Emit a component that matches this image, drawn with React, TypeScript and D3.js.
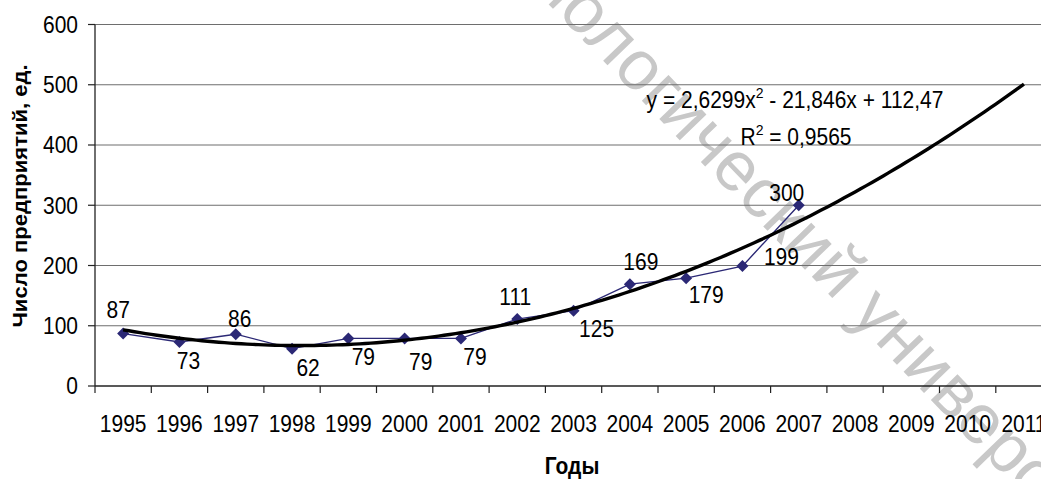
import React from "react";
import * as d3 from "d3";

const years = ["1995","1996","1997","1998","1999","2000","2001","2002","2003","2004","2005","2006","2007","2008","2009","2010","2011"];
const dataYears = ["1995","1996","1997","1998","1999","2000","2001","2002","2003","2004","2005","2006","2007"];
const values = [87, 73, 86, 62, 79, 79, 79, 111, 125, 169, 179, 199, 300];
const yTicks = [0, 100, 200, 300, 400, 500, 600];
// polynomial trend coefficients: a*x^2 + b*x + c, x = 1..17
const trendCoef = [2.6299, -21.846, 112.47];
// label offsets (dx, dy) from each point
const labelOffsets: [number, number][] = [
  [-5, -24], [9, 19], [4, -16], [16, 19], [15, 18], [16, 23], [14, 18],
  [-2, -22], [23, 18], [11, -22], [20, 17], [39, -9], [-12, -13],
];

const W = 1041, H = 479;
const left = 95, top = 24.5, bottom = 386;
const step = 56.3;
const FONT = "'Liberation Sans', Arial, sans-serif";
const SY = 1.1;

function T(props: { x: number; y: number; anchor?: string; size?: number; bold?: boolean; children: React.ReactNode; dy?: string }) {
  const { x, y, anchor = "middle", size = 21, bold = false, children, dy } = props;
  return (
    <text transform={`translate(${x},${y}) scale(1,${SY})`} textAnchor={anchor} fontSize={size} fontWeight={bold ? "bold" : "normal"} dy={dy}>
      {children}
    </text>
  );
}

export default function App() {
  const x = d3.scaleBand<string>().domain(years).range([left, left + step * years.length]).padding(0);
  const y = d3.scaleLinear().domain([0, 600]).range([bottom, top]);
  const cx = (yr: string) => (x(yr) as number) + x.bandwidth() / 2;

  const line = d3.line<[number, number]>().x(d => d[0]).y(d => d[1]);
  const dataPts: [number, number][] = dataYears.map((yr, i) => [cx(yr), y(values[i])]);

  const trendPts: [number, number][] = [];
  for (let t = 1; t <= years.length + 1e-9; t += 0.1) {
    const v = trendCoef[0] * t * t + trendCoef[1] * t + trendCoef[2];
    trendPts.push([(x(years[0]) as number) + x.bandwidth() * (t - 0.5), y(v)]);
  }

  const diamond = (px: number, py: number, r = 6) =>
    `M${px},${py - r}L${px + r},${py}L${px},${py + r}L${px - r},${py}Z`;

  const xRight = left + step * years.length;

  return (
    <svg width={W} height={H} style={{ position: "absolute", left: 0, top: 0, background: "#fff" }} fontFamily={FONT}>
      <rect x={0} y={0} width={W} height={H} fill="#fff" />
      {/* watermark */}
      <text transform={`translate(560,16) rotate(46)`} fontSize={70} fill="#c8c8c8" textAnchor="start" dx={-155}>
        Технологический университет
      </text>

      {/* gridlines */}
      {yTicks.filter(t => t > 0).map(t => (
        <line key={t} x1={left} x2={xRight} y1={y(t)} y2={y(t)} stroke="#6e6e6e" strokeWidth={1.2} />
      ))}
      {/* axes */}
      <line x1={left} x2={left} y1={top} y2={bottom} stroke="#222" strokeWidth={1.3} />
      <line x1={left} x2={xRight} y1={bottom} y2={bottom} stroke="#222" strokeWidth={1.3} />
      {yTicks.map(t => (
        <g key={t}>
          <line x1={left - 7} x2={left} y1={y(t)} y2={y(t)} stroke="#222" strokeWidth={1.2} />
          <T x={78} y={y(t)} anchor="end" dy="0.36em">{t}</T>
        </g>
      ))}
      {years.map(yr => (
        <line key={yr} x1={x(yr) as number} x2={x(yr) as number} y1={bottom} y2={bottom + 7} stroke="#222" strokeWidth={1.2} />
      ))}
      {years.map(yr => (
        <T key={yr} x={cx(yr)} y={432}>{yr}</T>
      ))}

      {/* data series */}
      <path d={line(dataPts) || ""} fill="none" stroke="#2b2875" strokeWidth={1.4} />
      {dataPts.map((p, i) => (
        <path key={i} d={diamond(p[0], p[1])} fill="#2b2875" />
      ))}
      {/* trend */}
      <path d={line(trendPts) || ""} fill="none" stroke="#000" strokeWidth={3.4} strokeLinejoin="round" />

      {/* labels */}
      {dataPts.map((p, i) => (
        <T key={i} x={p[0] + labelOffsets[i][0]} y={p[1] + labelOffsets[i][1]} dy="0.36em">
          {values[i]}
        </T>
      ))}

      {/* equation */}
      <T x={795} y={108}>
        y = 2,6299x<tspan fontSize={14} dy={-9}>2</tspan><tspan dy={9}> - 21,846x + 112,47</tspan>
      </T>
      <T x={796} y={145}>
        R<tspan fontSize={14} dy={-9}>2</tspan><tspan dy={9}> = 0,9565</tspan>
      </T>

      {/* axis titles */}
      <text transform={`translate(27,196) rotate(-90) scale(1.05,1)`} textAnchor="middle" fontSize={21} fontWeight="bold">
        Число предприятий, ед.
      </text>
      <T x={572} y={474} bold>Годы</T>
    </svg>
  );
}
